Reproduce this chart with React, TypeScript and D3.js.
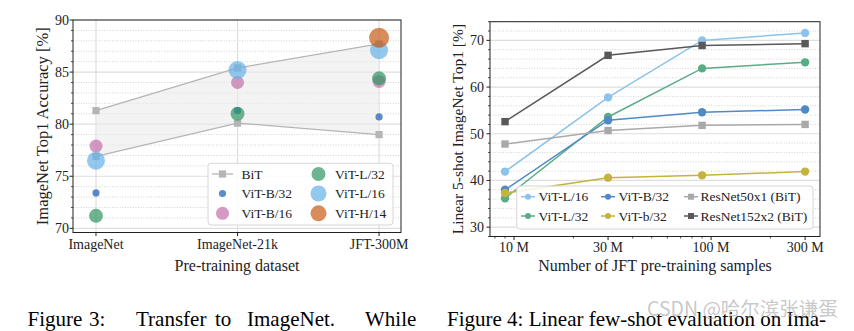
import React from "react";
import * as d3 from "d3";

// ---------- Figure 3 data ----------
const categories = ["ImageNet", "ImageNet-21k", "JFT-300M"];
const bitUpper = [81.3, 85.4, 87.7];
const bitLower = [76.9, 80.1, 79.0];
const vitB32 = [73.4, 81.3, 80.7];
const vitB16 = [77.9, 84.0, 84.1];
const vitL32 = [71.2, 81.0, 84.4];
const vitL16 = [76.5, 85.2, 87.1];
const vitH14: (number | null)[] = [null, null, 88.3];
const leftYTicks = [70, 75, 80, 85, 90];

// ---------- Figure 4 data ----------
const samples = [9e6, 30e6, 90e6, 300e6];
const sampleTicks = [1e7, 3e7, 1e8, 3e8];
const sampleTickLabels = ["10 M", "30 M", "100 M", "300 M"];
const fsL16 = [41.9, 57.8, 70.0, 71.6];
const fsL32 = [36.2, 53.6, 64.0, 65.3];
const fsB32 = [38.0, 52.9, 54.6, 55.2];
const fsb32 = [37.3, 40.6, 41.1, 41.9];
const fsR50 = [47.8, 50.7, 51.8, 52.0];
const fsR152 = [52.6, 66.8, 68.9, 69.3];
const rightYTicks = [30, 40, 50, 60, 70];

const SERIF = "'Liberation Serif', 'Times New Roman', serif";

const scatterSeries = [
  { name: "ViT-B/32", values: vitB32, color: "#155cb0", r: 3.6 },
  { name: "ViT-B/16", values: vitB16, color: "#c26fab", r: 6.5 },
  { name: "ViT-L/32", values: vitL32, color: "#2f9563", r: 7 },
  { name: "ViT-L/16", values: vitL16, color: "#65b2e8", r: 9 },
  { name: "ViT-H/14", values: vitH14, color: "#c95b16", r: 10 },
];

const lineSeries = [
  { name: "ViT-L/16", values: fsL16, color: "#8cc3ea", shape: "circle" },
  { name: "ViT-L/32", values: fsL32, color: "#5aac86", shape: "circle" },
  { name: "ViT-B/32", values: fsB32, color: "#4f8ac4", shape: "circle" },
  { name: "ViT-b/32", values: fsb32, color: "#c4b43e", shape: "circle" },
  { name: "ResNet50x1 (BiT)", values: fsR50, color: "#a9a9a9", shape: "square" },
  { name: "ResNet152x2 (BiT)", values: fsR152, color: "#595959", shape: "square" },
];

function LeftChart() {
  const x0 = 73, x1 = 401, y0 = 20, y1 = 232.5;
  const x = d3.scaleLinear().domain([-0.1625, 2.155]).range([x0, x1]);
  const y = d3.scaleLinear().domain([69.6, 90]).range([y1, y0]);
  const minor = d3.range(70, 91, 1).filter((v) => v % 5 !== 0);
  const idx = categories.map((_, i) => i);
  const area = d3
    .area<number>()
    .x((i) => x(i))
    .y0((i) => y(bitLower[i]))
    .y1((i) => y(bitUpper[i]));
  const lineU = d3.line<number>().x((i) => x(i)).y((i) => y(bitUpper[i]));
  const lineL = d3.line<number>().x((i) => x(i)).y((i) => y(bitLower[i]));
  const bitColor = "#b5b5b5";
  return (
    <g>
      {minor.map((v) => (
        <line key={"m" + v} x1={x0} x2={x1} y1={y(v)} y2={y(v)} stroke="#c8c8c8" strokeWidth={0.8} strokeDasharray="1,1.6" />
      ))}
      {leftYTicks.map((v) => (
        <line key={"g" + v} x1={x0} x2={x1} y1={y(v)} y2={y(v)} stroke="#dedede" strokeWidth={1.2} />
      ))}
      {idx.map((i) => (
        <line key={"vg" + i} x1={x(i)} x2={x(i)} y1={y0} y2={y1} stroke="#dedede" strokeWidth={1.2} />
      ))}
      <path d={area(idx) || ""} fill="#ebebeb" fillOpacity={0.6} />
      <path d={lineU(idx) || ""} fill="none" stroke={bitColor} strokeWidth={1.3} />
      <path d={lineL(idx) || ""} fill="none" stroke={bitColor} strokeWidth={1.3} />
      {idx.map((i) => (
        <g key={"bs" + i}>
          <rect x={x(i) - 3.6} y={y(bitUpper[i]) - 3.6} width={7.2} height={7.2} fill={bitColor} />
          <rect x={x(i) - 3.6} y={y(bitLower[i]) - 3.6} width={7.2} height={7.2} fill={bitColor} />
        </g>
      ))}
      {scatterSeries.map((s) =>
        s.values.map((v, i) =>
          v == null ? null : (
            <circle key={s.name + i} cx={x(i)} cy={y(v)} r={s.r} fill={s.color} fillOpacity={0.7} />
          )
        )
      )}
      <rect x={x0} y={y0} width={x1 - x0} height={y1 - y0} fill="none" stroke="#222" strokeWidth={1} />
      {leftYTicks.map((v) => (
        <g key={"yt" + v}>
          <line x1={x0 - 3.5} x2={x0} y1={y(v)} y2={y(v)} stroke="#222" />
          <text x={x0 - 4} y={y(v)} dy="0.35em" textAnchor="end" fontSize={14} fontFamily={SERIF} fill="#222">
            {v}
          </text>
        </g>
      ))}
      {minor.map((v) => (
        <line key={"ymt" + v} x1={x0 - 2} x2={x0} y1={y(v)} y2={y(v)} stroke="#222" strokeWidth={0.8} />
      ))}
      {categories.map((c, i) => (
        <g key={"xt" + c}>
          <line x1={x(i)} x2={x(i)} y1={y1} y2={y1 + 3.5} stroke="#222" />
          <text x={x(i)} y={y1 + 16.5} textAnchor="middle" fontSize={14} fontFamily={SERIF} fill="#222">
            {c}
          </text>
        </g>
      ))}
      <text x={(x0 + x1) / 2} y={270.5} textAnchor="middle" fontSize={16} fontFamily={SERIF} fill="#222">
        Pre-training dataset
      </text>
      <text
        transform={`translate(48,${(y0 + y1) / 2}) rotate(-90)`}
        textAnchor="middle"
        fontSize={16.5}
        fontFamily={SERIF}
        fill="#222"
      >
        ImageNet Top1 Accuracy [%]
      </text>
      <rect x={208} y={163.3} width={185} height={61.7} rx={3} fill="#fff" fillOpacity={0.85} stroke="#d6d6d6" />
      <line x1={212} x2={233} y1={174} y2={174} stroke={bitColor} strokeWidth={1.3} />
      <rect x={222.5 - 3.6} y={174 - 3.6} width={7.2} height={7.2} fill={bitColor} />
      <text x={241.5} y={174} dy="0.35em" fontSize={13.5} fontFamily={SERIF} fill="#222">BiT</text>
      {scatterSeries.map((s, k) => {
        const col = k < 2 ? 0 : 1;
        const row = k < 2 ? k + 1 : k - 2;
        const ly = [174, 193.5, 213.3][row];
        const mx = col === 0 ? 222.5 : 318.5;
        const tx = col === 0 ? 241.5 : 335;
        return (
          <g key={"lg" + s.name}>
            <circle cx={mx} cy={ly} r={Math.min(s.r, 8)} fill={s.color} fillOpacity={0.7} />
            <text x={tx} y={ly} dy="0.35em" fontSize={13.5} fontFamily={SERIF} fill="#222">
              {s.name}
            </text>
          </g>
        );
      })}
    </g>
  );
}

function RightChart() {
  const x0 = 490, x1 = 820, y0 = 21.7, y1 = 236.5;
  const x = d3.scaleLog().domain([7.55e6, 3.57e8]).range([x0, x1]);
  const y = d3.scaleLinear().domain([28, 74]).range([y1, y0]);
  const minorY = d3.range(28, 75, 2).filter((v) => v % 10 !== 0);
  const minorX = [8e6, 9e6, 2e7, 4e7, 5e7, 6e7, 7e7, 8e7, 9e7, 2e8];
  const line = d3
    .line<number>()
    .x((_, i) => x(samples[i]))
    .y((v) => y(v));
  const marker = (shape: string, cx: number, cy: number, color: string, key: string) =>
    shape === "circle" ? (
      <circle key={key} cx={cx} cy={cy} r={4.2} fill={color} />
    ) : (
      <rect key={key} x={cx - 3.7} y={cy - 3.7} width={7.4} height={7.4} fill={color} />
    );
  const legendCols = [
    { lx: 521, tx: 538.5 },
    { lx: 601, tx: 618.5 },
    { lx: 684, tx: 700.5 },
  ];
  const legendRows = [196.7, 216];
  return (
    <g>
      {minorY.map((v) => (
        <line key={"m" + v} x1={x0} x2={x1} y1={y(v)} y2={y(v)} stroke="#c8c8c8" strokeWidth={0.8} strokeDasharray="1,1.6" />
      ))}
      {rightYTicks.map((v) => (
        <line key={"g" + v} x1={x0} x2={x1} y1={y(v)} y2={y(v)} stroke="#dedede" strokeWidth={1.2} />
      ))}
      {lineSeries.map((s) => (
        <g key={s.name}>
          <path d={line(s.values) || ""} fill="none" stroke={s.color} strokeWidth={1.5} />
          {s.values.map((v, i) => marker(s.shape, x(samples[i]), y(v), s.color, s.name + i))}
        </g>
      ))}
      <rect x={x0} y={y0} width={x1 - x0} height={y1 - y0} fill="none" stroke="#222" strokeWidth={1} />
      {rightYTicks.map((v) => (
        <g key={"yt" + v}>
          <line x1={x0 - 3.5} x2={x0} y1={y(v)} y2={y(v)} stroke="#222" />
          <text x={x0 - 6} y={y(v)} dy="0.35em" textAnchor="end" fontSize={14} fontFamily={SERIF} fill="#222">
            {v}
          </text>
        </g>
      ))}
      {minorY.map((v) => (
        <line key={"ymt" + v} x1={x0 - 2} x2={x0} y1={y(v)} y2={y(v)} stroke="#222" strokeWidth={0.8} />
      ))}
      {sampleTicks.map((t, i) => (
        <g key={"xt" + t}>
          <line x1={x(t)} x2={x(t)} y1={y1} y2={y1 + 3.5} stroke="#222" />
          <text x={x(t)} y={y1 + 15} textAnchor="middle" fontSize={14} fontFamily={SERIF} fill="#222">
            {sampleTickLabels[i]}
          </text>
        </g>
      ))}
      {minorX.map((t) => (
        <line key={"xm" + t} x1={x(t)} x2={x(t)} y1={y1} y2={y1 + 2} stroke="#222" strokeWidth={0.8} />
      ))}
      <text x={655} y={270.5} textAnchor="middle" fontSize={16} fontFamily={SERIF} fill="#222">
        Number of JFT pre-training samples
      </text>
      <text
        transform={`translate(463,${(y0 + y1) / 2}) rotate(-90)`}
        textAnchor="middle"
        fontSize={15.5}
        fontFamily={SERIF}
        fill="#222"
      >
        Linear 5-shot ImageNet Top1 [%]
      </text>
      <rect x={516.7} y={186} width={296.3} height={43} rx={3} fill="#fff" fillOpacity={0.85} stroke="#d6d6d6" />
      {lineSeries.map((s, k) => {
        const c = legendCols[Math.floor(k / 2)];
        const ly = legendRows[k % 2];
        return (
          <g key={"lg" + s.name}>
            <line x1={c.lx} x2={c.lx + 14} y1={ly} y2={ly} stroke={s.color} strokeWidth={1.5} />
            {s.shape === "circle" ? (
              <circle cx={c.lx + 7} cy={ly} r={3} fill={s.color} />
            ) : (
              <rect x={c.lx + 7 - 3} y={ly - 3} width={6} height={6} fill={s.color} />
            )}
            <text x={c.tx} y={ly} dy="0.35em" fontSize={13.5} fontFamily={SERIF} fill="#222">
              {s.name}
            </text>
          </g>
        );
      })}
    </g>
  );
}

const caption3Words = ["Figure", "3:", "Transfer", "to", "ImageNet.", "While"];
const caption3X = [27.5, 89, 136, 215, 247, 365];
const caption4 = "Figure 4: Linear few-shot evaluation on Ima-";

export default function App() {
  return (
    <div style={{ position: "absolute", left: 0, top: 0 }}>
      <svg width={854} height={331} style={{ display: "block", background: "#fff" }}>
        <rect width={854} height={331} fill="#fff" />
        <LeftChart />
        <RightChart />
        {caption3Words.map((w, i) => (
          <text key={w} x={caption3X[i]} y={326} fontSize={21} fontFamily={SERIF} fill="#000">
            {w}
          </text>
        ))}
        <text x={447} y={326} fontSize={21} fontFamily={SERIF} fill="#000">
          {caption4}
        </text>
        <text x={647} y={316} fontSize={19.5} fontFamily="'Noto Sans CJK SC', 'Noto Sans', sans-serif" fill="#9a9a9a" fillOpacity={0.55}>
          CSDN @哈尔滨张谦蛋
        </text>
      </svg>
    </div>
  );
}
